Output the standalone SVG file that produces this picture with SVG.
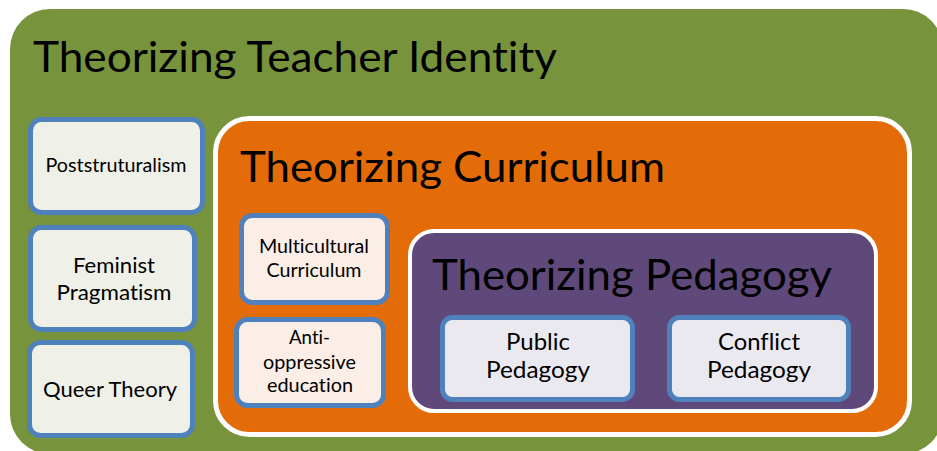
<svg xmlns="http://www.w3.org/2000/svg" width="937" height="451" viewBox="0 0 937 451">
  <style>
    .title { font-family: Lato, "Open Sans", "Liberation Sans", sans-serif; font-size: 42px; fill: #000; font-variant-ligatures: none; }
    .label { font-family: Lato, "Open Sans", "Liberation Sans", sans-serif; fill: #000; text-anchor: middle; font-variant-ligatures: none; }
    .leaf { stroke: #4F81BD; stroke-width: 5; }
    .leaf-green { fill: #EFF0E8; }
    .leaf-peach { fill: #FBEEE6; }
    .leaf-lilac { fill: #EBE9F0; }
    .frame { stroke: #FFFFFF; }
  </style>
  <rect x="0" y="0" width="937" height="451" fill="#FFFFFF"/>

  <!-- Outer container: teacher identity -->
  <g id="teacher-identity">
    <rect x="10" y="9" width="933" height="445" rx="40" fill="#77933C"/>
    <text class="title" x="33" y="72" textLength="524" lengthAdjust="spacingAndGlyphs">Theorizing Teacher Identity</text>
  </g>

  <g id="poststructuralism">
    <rect class="leaf leaf-green" x="30.5" y="119.5" width="172" height="93" rx="11"/>
    <text class="label" x="116" y="172" font-size="19" textLength="141" lengthAdjust="spacingAndGlyphs">Poststruturalism</text>
  </g>

  <g id="feminist-pragmatism">
    <rect class="leaf leaf-green" x="30.5" y="227.5" width="164" height="102" rx="11"/>
    <text class="label" x="114" y="273" font-size="21" textLength="82" lengthAdjust="spacingAndGlyphs">Feminist</text>
    <text class="label" x="114" y="300" font-size="21" textLength="115" lengthAdjust="spacingAndGlyphs">Pragmatism</text>
  </g>

  <g id="queer-theory">
    <rect class="leaf leaf-green" x="29.5" y="342.5" width="163" height="93" rx="11"/>
    <text class="label" x="110" y="397" font-size="21" textLength="134" lengthAdjust="spacingAndGlyphs">Queer Theory</text>
  </g>

  <!-- Curriculum container -->
  <g id="curriculum">
    <rect class="frame" x="215.5" y="118.5" width="694" height="316" rx="34" fill="#E36C09" stroke-width="5"/>
    <text class="title" x="240" y="182" textLength="425" lengthAdjust="spacingAndGlyphs">Theorizing Curriculum</text>
  </g>

  <g id="multicultural-curriculum">
    <rect class="leaf leaf-peach" x="241.5" y="215.5" width="146" height="87" rx="11"/>
    <text class="label" x="314" y="253" font-size="18.5" textLength="110" lengthAdjust="spacingAndGlyphs">Multicultural</text>
    <text class="label" x="314" y="277" font-size="18.5" textLength="95" lengthAdjust="spacingAndGlyphs">Curriculum</text>
  </g>

  <g id="anti-oppressive-education">
    <rect class="leaf leaf-peach" x="236.5" y="319.5" width="147" height="86" rx="11"/>
    <text class="label" x="309.5" y="344" font-size="18.5" textLength="41" lengthAdjust="spacingAndGlyphs">Anti-</text>
    <text class="label" x="309.5" y="369" font-size="18.5" textLength="93" lengthAdjust="spacingAndGlyphs">oppressive</text>
    <text class="label" x="310" y="392" font-size="18.5" textLength="86" lengthAdjust="spacingAndGlyphs">education</text>
  </g>

  <!-- Pedagogy container -->
  <g id="pedagogy">
    <rect class="frame" x="410" y="231" width="466" height="180" rx="24" fill="#5F497A" stroke-width="4"/>
    <text class="title" x="432" y="290" textLength="400" lengthAdjust="spacingAndGlyphs">Theorizing Pedagogy</text>
  </g>

  <g id="public-pedagogy">
    <rect class="leaf leaf-lilac" x="442.5" y="317.5" width="190" height="82" rx="10"/>
    <text class="label" x="538" y="350" font-size="23" textLength="64" lengthAdjust="spacingAndGlyphs">Public</text>
    <text class="label" x="538" y="378" font-size="23" textLength="104" lengthAdjust="spacingAndGlyphs">Pedagogy</text>
  </g>

  <g id="conflict-pedagogy">
    <rect class="leaf leaf-lilac" x="669.5" y="317.5" width="179" height="82" rx="10"/>
    <text class="label" x="759" y="350" font-size="23" textLength="82" lengthAdjust="spacingAndGlyphs">Conflict</text>
    <text class="label" x="759" y="378" font-size="23" textLength="104" lengthAdjust="spacingAndGlyphs">Pedagogy</text>
  </g>

  <!-- Containment diagram: no connectors drawn -->
  <g id="connectors"/>
</svg>
